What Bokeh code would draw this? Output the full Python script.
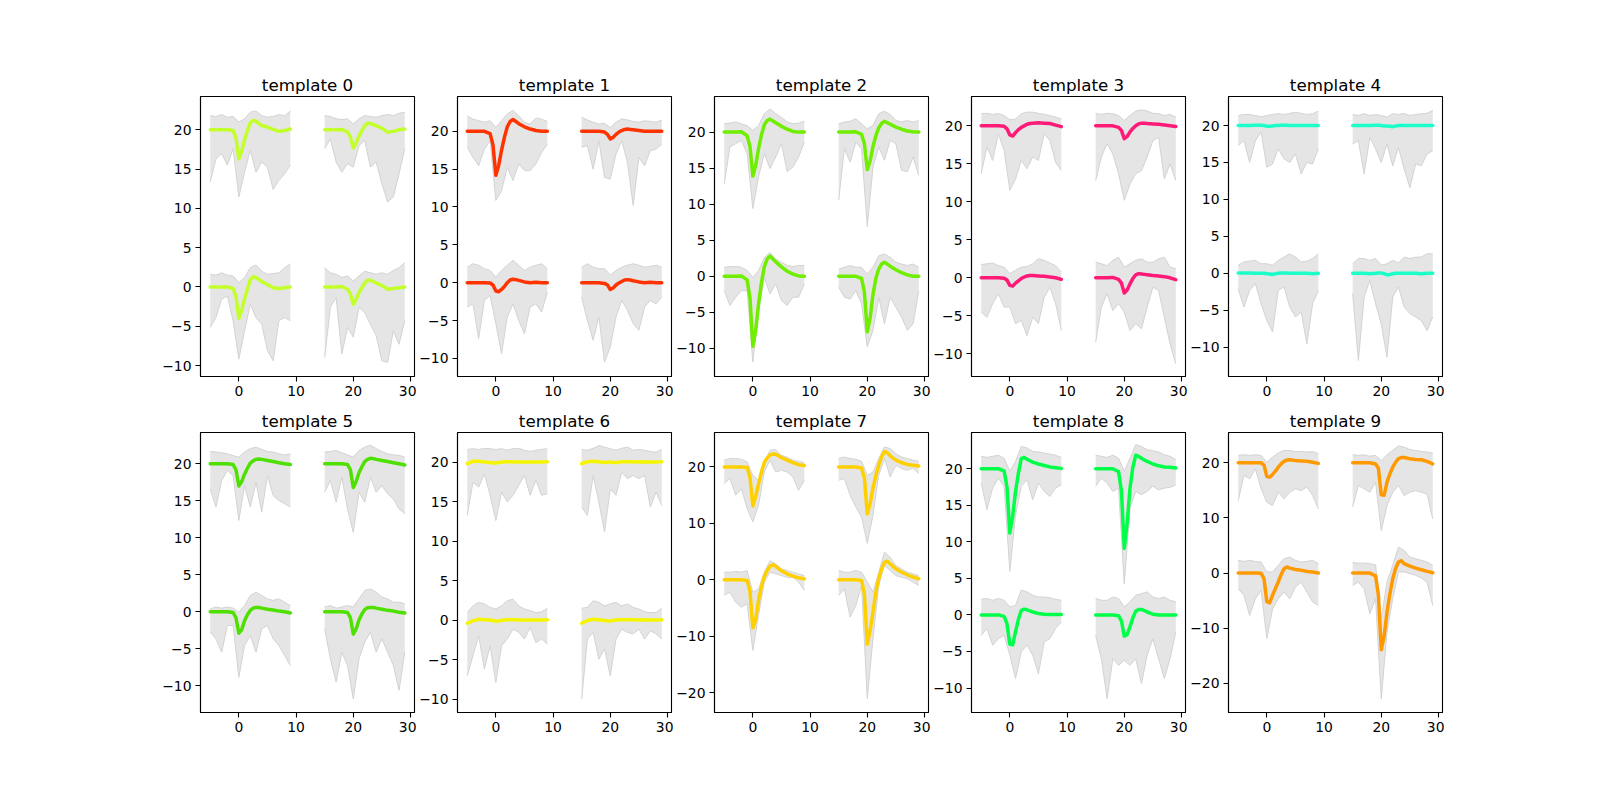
from bokeh.plotting import figure
from bokeh.layouts import column, row
from bokeh.models import Range1d, FixedTicker
from bokeh.embed import file_html
from bokeh.resources import INLINE

# sample times of the two windows (envelope sampled once per sample)
time_a = list(range(-5, 10))
time_b = list(range(15, 30))
# template waveforms are sampled more densely around the spike
mean_time_a = [-5, -4, -3, -2, -1, -0.5, 0, 0.5, 1, 1.5, 2, 2.5, 3, 3.5, 4, 5, 6, 7, 8, 9]
mean_time_b = [15, 16, 17, 18, 19, 19.5, 20, 20.5, 21, 21.5, 22, 22.5, 23, 23.5, 24, 25, 26, 27, 28, 29]
# vertical spacing of the two channels
channel_offset = [0, 20]

# each template: [ch0 window A, ch0 window B, ch1 window A, ch1 window B]
mean_t0 = [[0, 0, 0, 0, -0.2, -1.2, -4.0, -3.0, -1.5, -0.3, 0.9, 1.3, 1.2, 0.95, 0.7, 0.3, -0.1, -0.2, -0.1, 0.0],
           [0, 0, 0, 0.05, -0.3, -0.9, -2.2, -1.6, -0.7, -0.1, 0.5, 0.85, 0.85, 0.7, 0.5, 0.2, -0.3, -0.2, -0.1, 0.0],
           [0, 0, 0, 0, -0.1, -1.0, -3.7, -2.7, -1.3, -0.1, 0.9, 1.2, 1.1, 0.8, 0.55, 0.35, 0.05, -0.2, -0.1, 0.1],
           [0, 0, 0, 0.05, -0.3, -0.9, -2.3, -1.7, -0.8, -0.1, 0.5, 0.85, 0.8, 0.65, 0.5, 0.2, -0.3, -0.2, 0.0, 0.1]]
hi_t0 = [[1.6, 1.5, 1.8, 1.5, 1.4, 0.55, 1.2, 2.45, 2.8, 2.0, 1.6, 1.7, 1.8, 2.45, 2.95],
         [2.45, 1.8, 1.6, 1.2, 1.4, 0.75, 1.4, 2.0, 1.8, 1.6, 1.8, 1.6, 2.1, 2.45, 3.1],
         [1.8, 1.7, 1.95, 1.6, 1.7, 1.0, 1.4, 2.25, 2.4, 1.8, 1.6, 1.7, 1.95, 1.8, 2.4],
         [1.8, 1.7, 1.4, 1.3, 1.4, 0.75, 1.4, 1.8, 1.7, 1.6, 1.8, 1.95, 1.8, 2.1, 2.25]]
lo_t0 = [[-5.15, -3.9, -1.55, -1.15, -4.3, -9.2, -5.6, -2.2, -3.9, -4.75, -8.1, -9.4, -4.3, -3.9, -4.3],
         [-9.0, -2.6, -1.35, -8.55, -5.15, -6.4, -2.6, -3.25, -4.75, -6.2, -9.4, -9.6, -5.6, -7.3, -4.3],
         [-6.65, -3.7, -3.05, -4.5, -2.4, -8.55, -5.4, -2.6, -5.4, -4.1, -4.75, -7.6, -6.45, -5.6, -4.5],
         [-2.4, -1.15, -4.1, -5.4, -4.3, -4.75, -2.0, -1.35, -4.75, -4.1, -6.85, -9.2, -8.55, -5.6, -2.4]]

mean_t1 = [[0, 0, 0, 0, -0.05, -0.3, -1.1, -1.2, -0.9, -0.5, 0.0, 0.35, 0.45, 0.4, 0.3, 0.1, 0.0, 0.05, 0.0, 0.0],
           [0, 0, 0, 0, -0.1, -0.3, -0.9, -0.7, -0.3, -0.05, 0.15, 0.35, 0.4, 0.35, 0.25, 0.1, 0.0, 0.05, 0.0, 0.0],
           [0, 0, 0, 0, -0.3, -1.8, -5.8, -4.5, -2.5, -0.8, 0.6, 1.3, 1.55, 1.3, 1.0, 0.6, 0.3, 0.1, 0.0, 0.0],
           [0, 0, 0, 0, -0.1, -0.4, -1.0, -0.8, -0.4, -0.1, 0.1, 0.25, 0.3, 0.25, 0.2, 0.1, 0.0, 0.0, 0.0, 0.0]]
hi_t1 = [[2.05, 2.5, 2.3, 1.85, 1.6, 0.75, 1.6, 2.3, 2.95, 2.3, 1.6, 2.05, 2.3, 2.5, 1.85],
         [2.05, 2.5, 2.05, 1.85, 1.85, 1.0, 1.6, 2.05, 2.3, 2.5, 2.3, 2.05, 2.15, 2.3, 2.05],
         [2.05, 1.6, 1.4, 1.2, 1.4, 0.5, 1.4, 2.3, 2.75, 2.05, 1.2, 0.95, 1.75, 1.6, 1.3],
         [1.85, 1.5, 1.2, 0.95, 1.05, 0.5, 1.2, 1.65, 1.5, 1.3, 1.2, 1.4, 1.3, 1.2, 1.5]]
lo_t1 = [[-3.2, -2.8, -7.4, -2.35, -1.7, -5.4, -9.4, -4.55, -2.8, -5.0, -6.75, -3.2, -2.8, -3.9, -1.25],
         [-1.9, -5.0, -7.6, -4.55, -10.5, -8.5, -4.55, -2.35, -3.65, -5.4, -6.3, -3.2, -2.35, -2.8, -1.9],
         [-2.1, -3.45, -4.55, -2.35, -1.25, -9.15, -7.85, -4.75, -6.5, -4.3, -5.2, -5.2, -4.3, -2.8, -1.7],
         [-2.1, -1.9, -5.0, -1.25, -6.1, -6.3, -3.0, -1.25, -4.1, -9.8, -3.45, -4.55, -2.55, -2.35, -1.7]]

mean_t2 = [[0, 0, 0, 0.05, -0.5, -3.0, -9.7, -7.5, -3.8, -0.9, 1.3, 2.4, 2.8, 2.4, 2.0, 1.3, 0.7, 0.3, 0.05, 0.0],
           [0, 0, 0, 0, -0.3, -2.2, -7.7, -5.8, -2.5, -0.3, 1.0, 1.7, 1.95, 1.7, 1.4, 0.9, 0.5, 0.2, 0.0, 0.0],
           [0, 0, 0, 0.05, -0.5, -2.0, -6.1, -4.6, -2.3, -0.4, 1.0, 1.6, 1.8, 1.55, 1.3, 0.8, 0.4, 0.1, 0.0, 0.0],
           [0, 0, 0, 0.05, -0.3, -1.6, -5.2, -4.0, -2.0, -0.5, 0.6, 1.2, 1.5, 1.3, 1.1, 0.7, 0.4, 0.15, 0.05, 0.0]]
hi_t2 = [[1.25, 1.35, 1.35, 1.25, 0.8, -0.15, 0.8, 2.6, 3.3, 2.4, 1.95, 1.5, 1.35, 1.5, 1.5],
         [1.0, 1.25, 1.5, 1.25, 1.25, 0.3, 1.25, 2.85, 3.1, 2.65, 1.95, 1.7, 1.5, 1.7, 1.25],
         [1.15, 1.25, 1.4, 1.15, 0.9, 0.25, 0.9, 2.55, 3.2, 2.55, 2.05, 1.4, 1.15, 1.25, 1.5],
         [1.15, 1.4, 1.5, 1.85, 1.15, 0.45, 0.9, 2.55, 2.9, 2.45, 1.6, 1.4, 1.6, 1.4, 1.6]]
lo_t2 = [[-2.0, -4.05, -2.9, -2.0, -2.0, -11.9, -5.0, -0.15, -2.45, -1.05, -3.35, -4.05, -2.9, -2.9, -1.05],
         [-1.5, -2.9, -3.15, -2.0, -3.8, -9.8, -7.5, -2.9, -6.6, -2.9, -4.3, -5.65, -7.5, -6.6, -2.0],
         [-7.15, -2.05, -1.6, -1.15, -3.0, -10.6, -6.2, -3.0, -5.05, -3.45, -1.6, -5.5, -4.85, -3.45, -1.4],
         [-9.45, -2.3, -4.15, -1.4, -2.3, -13.1, -4.85, -2.05, -3.9, -1.15, -1.6, -5.3, -5.5, -3.45, -6.0]]

mean_t3 = [[0, 0, 0, 0, -0.05, -0.3, -1.0, -1.1, -0.7, -0.4, -0.1, 0.1, 0.25, 0.3, 0.3, 0.25, 0.2, 0.1, 0.0, -0.2],
           [0, 0, 0, 0.05, -0.2, -0.7, -2.0, -1.6, -0.8, -0.1, 0.4, 0.55, 0.5, 0.45, 0.4, 0.3, 0.25, 0.15, 0.0, -0.25],
           [0, 0, 0, 0, -0.05, -0.4, -1.2, -1.35, -0.9, -0.5, -0.2, 0.0, 0.2, 0.3, 0.35, 0.4, 0.35, 0.3, 0.1, -0.1],
           [0, 0, 0, 0, -0.2, -0.6, -1.7, -1.4, -0.8, -0.35, 0.0, 0.25, 0.35, 0.35, 0.3, 0.25, 0.2, 0.1, 0.0, -0.1]]
hi_t3 = [[1.75, 1.85, 1.95, 1.6, 1.4, 0.55, 1.0, 1.4, 1.5, 1.85, 2.5, 2.3, 1.95, 1.6, 0.75],
         [2.05, 1.85, 1.6, 2.3, 2.7, 1.4, 1.85, 2.3, 2.5, 2.05, 2.05, 2.5, 2.7, 1.4, 1.2],
         [1.6, 1.65, 1.5, 1.6, 1.35, 0.8, 0.9, 1.6, 1.8, 1.8, 1.65, 1.5, 1.35, 1.15, 0.9],
         [1.6, 1.5, 1.65, 1.6, 1.35, 0.7, 1.35, 1.95, 2.1, 1.95, 1.65, 1.6, 1.35, 1.5, 1.15]]
lo_t3 = [[-4.5, -5.2, -3.4, -2.1, -3.85, -3.85, -6.05, -5.6, -7.6, -5.2, -6.05, -2.55, -1.25, -3.4, -6.95],
         [-8.45, -3.85, -2.1, -4.3, -3.4, -4.5, -6.95, -6.05, -6.7, -3.85, -1.25, -1.65, -5.2, -8.7, -11.3],
         [-6.3, -2.8, -4.55, -1.05, -3.25, -8.5, -7.0, -4.55, -5.65, -4.1, -4.55, -1.05, -1.95, -4.8, -5.9],
         [-7.2, -4.1, -2.35, -3.7, -6.3, -9.8, -7.65, -6.3, -5.9, -4.1, -1.95, -1.5, -7.0, -5.0, -7.2]]

mean_t4 = [[0.05, 0.05, 0.05, 0, 0, 0, -0.05, -0.1, -0.15, -0.05, 0, 0.05, 0.05, 0.05, 0, 0, 0, 0, -0.05, 0],
           [0, 0, 0, -0.05, 0, 0.05, 0.05, -0.05, -0.2, -0.15, -0.05, 0, 0, 0, 0, 0, 0, -0.05, 0, 0],
           [0, 0, 0, 0.05, 0.05, 0, -0.1, -0.1, -0.05, 0, 0, 0.05, 0.05, 0.05, 0, 0, 0, 0, 0, 0],
           [0, 0, 0, 0, 0.05, 0.05, 0, -0.05, -0.05, -0.1, -0.15, -0.05, 0, 0, 0, 0, 0, 0, 0, 0]]
hi_t4 = [[1.1, 1.55, 1.65, 1.75, 1.3, 1.3, 1.1, 1.75, 2.2, 2.65, 2.2, 1.55, 1.65, 2.0, 2.65],
         [1.3, 2.0, 2.0, 1.75, 2.0, 1.1, 1.3, 1.75, 1.4, 2.2, 2.0, 2.2, 2.2, 2.65, 2.65],
         [1.35, 1.5, 1.5, 1.35, 1.2, 1.35, 1.5, 1.6, 1.5, 1.65, 1.8, 1.65, 1.5, 1.6, 1.95],
         [1.5, 1.35, 1.6, 1.35, 1.5, 1.35, 1.15, 1.6, 1.5, 1.65, 1.35, 1.5, 1.6, 1.65, 2.05]]
lo_t4 = [[-2.1, -4.55, -2.3, -1.4, -4.1, -6.4, -7.95, -2.3, -1.85, -4.55, -5.9, -5.25, -9.55, -4.1, -2.3],
         [-2.75, -11.8, -3.2, -0.95, -4.1, -6.85, -11.35, -3.2, -1.85, -4.55, -5.45, -5.9, -6.4, -7.75, -5.9],
         [-2.7, -2.05, -5.0, -2.05, -0.9, -5.65, -5.2, -3.15, -4.5, -5.0, -3.85, -6.55, -5.0, -5.2, -3.15],
         [-2.5, -2.05, -6.55, -1.6, -3.15, -5.0, -2.5, -5.45, -2.95, -5.9, -8.4, -5.2, -5.45, -3.85, -3.4]]

mean_t5 = [[0, 0, 0, 0, -0.1, -0.8, -2.9, -2.4, -1.2, -0.4, 0.2, 0.5, 0.6, 0.6, 0.5, 0.35, 0.25, 0.1, 0.0, -0.15],
           [0, 0, 0, 0, -0.1, -0.8, -3.0, -2.3, -1.1, -0.3, 0.3, 0.55, 0.6, 0.6, 0.5, 0.35, 0.2, 0.1, -0.05, -0.15],
           [0, 0, 0, 0, -0.1, -0.8, -3.0, -2.4, -1.4, -0.6, 0.1, 0.4, 0.6, 0.65, 0.6, 0.45, 0.3, 0.15, 0.0, -0.1],
           [0, 0, 0, 0, -0.1, -0.8, -3.2, -2.4, -1.2, -0.4, 0.3, 0.6, 0.75, 0.7, 0.6, 0.45, 0.3, 0.15, 0.0, -0.15]]
hi_t5 = [[0.4, 0.65, 0.5, 0.65, 0.5, -0.05, 0.85, 2.2, 2.65, 2.2, 1.75, 1.55, 1.75, 1.3, 0.85],
         [0.65, 0.85, 0.5, 0.65, 0.85, 0.65, 1.75, 2.9, 3.1, 2.65, 2.0, 1.75, 1.3, 1.3, 1.1],
         [1.65, 1.6, 1.5, 1.35, 1.1, 0.9, 1.6, 2.05, 2.25, 1.95, 1.65, 1.6, 1.35, 1.2, 1.35],
         [1.6, 1.65, 1.8, 1.5, 1.2, 0.9, 1.8, 2.25, 2.5, 2.05, 1.65, 1.35, 1.2, 1.15, 0.9]]
lo_t5 = [[-2.75, -3.65, -5.45, -1.85, -1.85, -8.85, -4.55, -3.2, -5.45, -2.3, -1.85, -3.65, -4.55, -5.9, -7.25],
         [-2.3, -6.35, -9.5, -5.45, -7.25, -11.75, -6.35, -4.1, -2.75, -5.45, -3.65, -5.45, -7.25, -10.6, -5.45],
         [-3.4, -5.85, -2.25, -0.9, -1.6, -7.65, -2.95, -5.85, -2.5, -6.55, -1.6, -4.3, -4.95, -5.4, -5.85],
         [-3.85, -2.25, -5.2, -1.8, -6.1, -9.25, -3.85, -5.2, -1.8, -3.85, -2.95, -4.05, -4.75, -6.1, -6.75]]

mean_t6 = [[-0.4, -0.1, 0.1, 0.05, 0.0, -0.05, -0.15, -0.1, -0.05, 0.0, 0.05, 0.05, 0.05, 0.05, 0.0, 0.0, 0.0, 0.0, 0.0, 0.05],
           [-0.4, -0.05, 0.1, 0.05, -0.05, -0.1, -0.1, -0.05, 0.0, 0.05, 0.05, 0.05, 0.05, 0.05, 0.05, 0.0, 0.05, 0.0, 0.0, 0.05],
           [-0.2, 0.1, 0.1, 0.0, -0.05, -0.1, -0.1, -0.05, 0.0, 0.05, 0.05, 0.05, 0.05, 0.0, 0.0, 0.0, 0.0, 0.0, 0.0, 0.05],
           [-0.2, 0.05, 0.1, 0.05, -0.05, 0.0, 0.0, -0.05, -0.05, 0.0, 0.05, 0.05, 0.05, 0.05, 0.05, 0.0, 0.05, 0.0, 0.0, 0.05]]
hi_t6 = [[0.95, 1.8, 2.25, 2.05, 1.6, 1.4, 1.8, 2.45, 2.65, 1.8, 1.4, 1.2, 0.95, 1.05, 1.5],
         [1.5, 1.6, 2.45, 2.25, 1.8, 2.05, 2.25, 1.8, 2.05, 1.6, 1.4, 1.05, 0.95, 0.95, 1.5],
         [1.6, 1.7, 1.6, 1.75, 1.7, 1.6, 1.7, 1.5, 1.7, 1.75, 1.5, 1.35, 1.5, 1.6, 1.7],
         [1.6, 1.5, 1.75, 2.1, 1.9, 1.7, 1.5, 1.75, 1.9, 1.5, 1.6, 1.5, 1.35, 1.25, 1.6]]
lo_t6 = [[-7.05, -4.5, -2.0, -6.2, -3.25, -7.9, -3.25, -2.4, -1.15, -1.55, -2.4, -0.95, -2.85, -2.4, -3.05],
         [-10.0, -2.4, -1.55, -4.95, -3.65, -7.05, -2.4, -1.15, -1.55, -1.75, -1.15, -2.4, -1.35, -1.75, -2.4],
         [-6.75, -2.55, -3.15, -1.5, -4.2, -7.4, -3.8, -5.05, -4.2, -2.95, -1.7, -4.2, -2.3, -4.2, -4.0],
         [-5.7, -6.75, -1.7, -5.05, -8.85, -3.4, -4.2, -1.25, -2.1, -1.7, -2.1, -1.7, -5.7, -3.8, -5.5]]

mean_t7 = [[0, 0, 0, 0, -0.1, -2.0, -8.5, -7.0, -3.6, -1.2, 0.6, 1.6, 2.4, 2.65, 2.4, 1.6, 1.05, 0.65, 0.35, 0.2],
           [0, 0, 0, 0, -0.1, -2.5, -11.4, -9.0, -5.7, -2.2, 0.2, 1.9, 3.1, 3.3, 2.85, 1.95, 1.35, 0.9, 0.5, 0.2],
           [0, 0, 0, 0, -0.1, -1.8, -6.9, -5.2, -3.0, -0.9, 0.8, 1.6, 2.1, 2.3, 2.25, 1.65, 1.2, 0.75, 0.4, 0.25],
           [0, 0, 0, 0, -0.2, -2.0, -8.3, -6.5, -3.8, -1.5, 0.3, 1.8, 2.7, 2.55, 1.95, 1.2, 0.75, 0.45, 0.3, 0.15]]
hi_t7 = [[1.35, 1.35, 1.5, 1.35, 1.65, -2.2, -1.6, 1.35, 3.4, 2.85, 1.95, 1.65, 1.35, 1.05, 0.75],
         [1.65, 1.35, 1.35, 1.65, 1.35, -0.4, -2.2, 1.35, 4.9, 4.0, 2.5, 1.95, 1.35, 1.05, 0.75],
         [1.2, 1.5, 1.5, 1.35, 0.9, -1.5, -2.35, 0.9, 2.95, 3.1, 2.05, 1.75, 1.2, 1.0, 0.75],
         [1.5, 1.75, 1.5, 1.35, 1.0, -1.5, -0.9, 1.5, 3.55, 3.25, 2.35, 1.75, 1.5, 1.2, 1.0]]
lo_t7 = [[-2.75, -2.2, -3.95, -4.85, -4.25, -12.5, -6.3, -0.4, 1.35, 1.05, 0.75, 0.45, 0.45, -0.4, -1.9],
         [-2.75, -1.6, -6.6, -4.55, -1.0, -21.05, -10.4, -1.0, 2.55, 1.65, 0.75, 0.45, 0.2, -0.4, -1.0],
         [-2.95, -2.05, -5.0, -3.85, -7.35, -9.75, -6.8, -0.9, 1.2, -0.9, -0.6, -0.9, -1.75, -4.15, -2.35],
         [-2.35, -2.05, -5.0, -7.1, -8.85, -13.55, -8.55, -1.5, 1.5, -1.75, 0.3, -0.3, -0.6, -0.2, -1.2]]

mean_t8 = [[0, 0, 0, 0, -0.2, -1.2, -4.0, -4.1, -2.3, -0.6, 0.6, 0.8, 0.7, 0.55, 0.4, 0.2, 0.1, 0.05, 0.05, 0.05],
           [0, 0, 0, 0, -0.1, -0.8, -2.9, -2.7, -1.6, -0.4, 0.5, 0.75, 0.75, 0.6, 0.4, 0.1, 0.0, 0.0, 0.0, 0.0],
           [0, 0, 0, 0, -0.3, -2.5, -8.8, -6.5, -3.1, -0.6, 1.4, 1.55, 1.3, 1.1, 0.9, 0.65, 0.45, 0.25, 0.15, 0.05],
           [0, 0, 0, 0, -0.4, -3.0, -10.9, -7.5, -2.65, 0.2, 1.85, 1.7, 1.45, 1.2, 1.0, 0.65, 0.4, 0.25, 0.2, 0.1]]
hi_t8 = [[2.15, 2.25, 2.0, 2.25, 2.0, 1.1, 1.3, 3.4, 3.15, 2.7, 2.45, 2.45, 2.35, 2.15, 2.0],
         [2.25, 2.0, 2.0, 2.45, 2.25, 1.1, 1.8, 2.7, 2.9, 3.15, 2.45, 2.25, 2.45, 2.0, 1.8],
         [1.7, 1.55, 1.7, 1.85, 1.45, -0.35, 1.0, 3.05, 2.85, 2.35, 2.3, 2.15, 2.0, 1.85, 1.55],
         [1.85, 1.7, 1.55, 1.85, 1.45, -0.35, 1.45, 3.3, 3.05, 2.6, 2.45, 2.3, 1.9, 1.7, 1.25]]
lo_t8 = [[-2.8, -1.85, -4.15, -3.25, -2.8, -5.5, -8.7, -5.05, -4.15, -5.5, -8.05, -3.7, -3.25, -1.85, -0.95],
         [-2.8, -6.0, -11.45, -6.0, -6.9, -6.2, -6.9, -6.0, -9.4, -5.5, -3.25, -6.0, -8.7, -6.0, -2.35],
         [-1.95, -5.6, -2.65, -1.3, -2.4, -14.05, -6.3, -2.4, -1.5, -4.25, -1.95, -3.1, -3.8, -2.65, -2.2],
         [-2.4, -1.3, -1.95, -3.1, -2.65, -15.8, -5.4, -3.1, -3.55, -3.1, -2.4, -2.9, -2.65, -2.55, -2.2]]

mean_t9 = [[0, 0, 0, 0, -0.05, -1.0, -5.2, -5.4, -4.0, -2.8, -1.6, -0.3, 0.8, 1.1, 0.9, 0.65, 0.5, 0.3, 0.2, 0.0],
           [0, 0, 0, 0, -0.5, -4.0, -13.9, -11.5, -7.1, -3.8, -1.05, 0.8, 2.0, 2.25, 1.7, 1.25, 0.9, 0.6, 0.3, 0.05],
           [0, 0, 0, 0, 0, -0.4, -2.5, -2.6, -2.1, -1.5, -0.8, -0.2, 0.25, 0.5, 0.55, 0.4, 0.35, 0.3, 0.1, -0.1],
           [0, 0, 0, 0, -0.2, -1.0, -5.8, -5.9, -3.5, -2.0, -0.8, 0.1, 0.75, 0.95, 0.95, 0.75, 0.6, 0.55, 0.25, -0.2]]
hi_t9 = [[2.3, 2.1, 2.3, 2.1, 2.0, 0.2, 0.2, 1.4, 2.6, 2.9, 2.3, 2.0, 2.1, 2.3, 1.7],
         [1.9, 1.8, 1.8, 1.7, 1.5, -8.3, -1.65, 1.4, 4.7, 4.1, 2.9, 2.6, 2.3, 2.0, 1.4],
         [1.35, 1.45, 1.35, 1.45, 1.35, 0.1, 1.05, 1.8, 2.25, 2.25, 2.05, 2.05, 1.95, 2.05, 1.65],
         [1.45, 1.35, 1.45, 1.2, 1.35, 0.4, 1.45, 2.25, 3.05, 2.85, 2.4, 2.25, 2.05, 1.95, 1.8]]
lo_t9 = [[-2.85, -4.05, -7.7, -4.65, -3.15, -11.9, -6.5, -4.65, -3.45, -4.65, -2.55, -1.65, -3.45, -5.25, -5.9],
         [-2.25, -1.65, -2.85, -7.4, -4.65, -22.85, -10.7, -4.65, 0.2, 0.2, -0.1, -0.4, -0.9, -1.65, -5.9],
         [-6.85, -2.3, -2.9, -1.1, -4.7, -7.15, -7.75, -5.35, -6.55, -5.35, -4.7, -5.05, -4.4, -5.95, -8.35],
         [-8.05, -4.1, -4.7, -5.35, -3.5, -12.3, -7.75, -5.35, -4.1, -5.95, -5.35, -5.05, -5.35, -5.65, -10.2]]

template_colors = ["#c3ff2b", "#ff3300", "#6fee00", "#ff1a78", "#1cffc8",
                   "#4ee000", "#f5f500", "#ffd000", "#00ff48", "#ff9900"]
y_limits = [(-11.4, 24.24), (-12.4, 24.6), (-13.9, 24.94), (-12.99, 23.86), (-13.96, 23.93),
            (-13.6, 24.23), (-11.7, 23.75), (-23.5, 26.1), (-13.35, 24.96), (-25.3, 25.5)]
y_ticks = [[-10, -5, 0, 5, 10, 15, 20]] * 7 + [[-20, -10, 0, 10, 20]] \
    + [[-10, -5, 0, 5, 10, 15, 20, 25]] + [[-20, -10, 0, 10, 20]]
x_ticks = [0, 10, 20, 30]

means = [mean_t0, mean_t1, mean_t2, mean_t3, mean_t4, mean_t5, mean_t6, mean_t7, mean_t8, mean_t9]
highs = [hi_t0, hi_t1, hi_t2, hi_t3, hi_t4, hi_t5, hi_t6, hi_t7, hi_t8, hi_t9]
lows = [lo_t0, lo_t1, lo_t2, lo_t3, lo_t4, lo_t5, lo_t6, lo_t7, lo_t8, lo_t9]

# trace order inside each template: (channel, envelope times, waveform times)
traces = [(0, time_a, mean_time_a), (0, time_b, mean_time_b),
          (1, time_a, mean_time_a), (1, time_b, mean_time_b)]

FONT = "DejaVu Sans"
left_borders = [200, 41, 40, 41, 40]


def minus(v):
    return str(v).replace("-", "\u2212")


def make_panel(i):
    r, c = divmod(i, 5)
    p = figure(frame_width=214, frame_height=280,
               x_range=Range1d(-6.7, 30.7), y_range=Range1d(*y_limits[i]),
               output_backend="svg", toolbar_location=None,
               min_border_left=left_borders[c], min_border_right=2,
               min_border_top=96 if r == 0 else 30,
               min_border_bottom=26 if r == 0 else 84)
    p.title.text = f"template {i}"
    p.title.align = "center"
    p.title.text_font = FONT
    p.title.text_font_size = "16.7px"
    p.title.text_font_style = "normal"
    p.title.text_color = "black"
    p.title.standoff = 4

    p.grid.grid_line_color = None
    p.outline_line_color = "black"
    p.outline_line_alpha = 1.0
    p.outline_line_width = 1.1
    p.background_fill_color = "white"
    p.border_fill_color = "white"

    p.xaxis.ticker = FixedTicker(ticks=x_ticks)
    p.yaxis.ticker = FixedTicker(ticks=y_ticks[i])
    p.yaxis.major_label_overrides = {t: minus(t) for t in y_ticks[i]}
    for ax in (p.xaxis, p.yaxis):
        ax.axis_line_color = "black"
        ax.axis_line_width = 1.1
        ax.major_tick_line_color = "black"
        ax.major_tick_line_width = 1.1
        ax.major_tick_in = 0
        ax.major_tick_out = 5
        ax.minor_tick_line_color = None
        ax.major_label_standoff = 4
        ax.major_label_text_font = FONT
        ax.major_label_text_font_size = "13.9px"
        ax.major_label_text_color = "black"

    # spread of the waveforms (min..max envelope)
    for k, (ch, tt, _) in enumerate(traces):
        off = channel_offset[ch]
        lo = [v + off for v in lows[i][k]]
        hi = [v + off for v in highs[i][k]]
        p.varea(x=tt, y1=lo, y2=hi, fill_color="#d3d3d3", fill_alpha=0.6)
        p.line(tt, lo, line_color="#d3d3d3", line_width=1)
        p.line(tt, hi, line_color="#d3d3d3", line_width=1)
    # template waveform
    for k, (ch, _, mt) in enumerate(traces):
        off = channel_offset[ch]
        m = [v + off for v in means[i][k]]
        p.line(mt, m, line_color=template_colors[i], line_width=3.5,
               line_join="round", line_cap="round")
    return p


panels = [make_panel(i) for i in range(10)]
layout = column(row(*panels[:5], spacing=0), row(*panels[5:], spacing=0), spacing=0)

open("out.html", "w").write(file_html(layout, INLINE))
